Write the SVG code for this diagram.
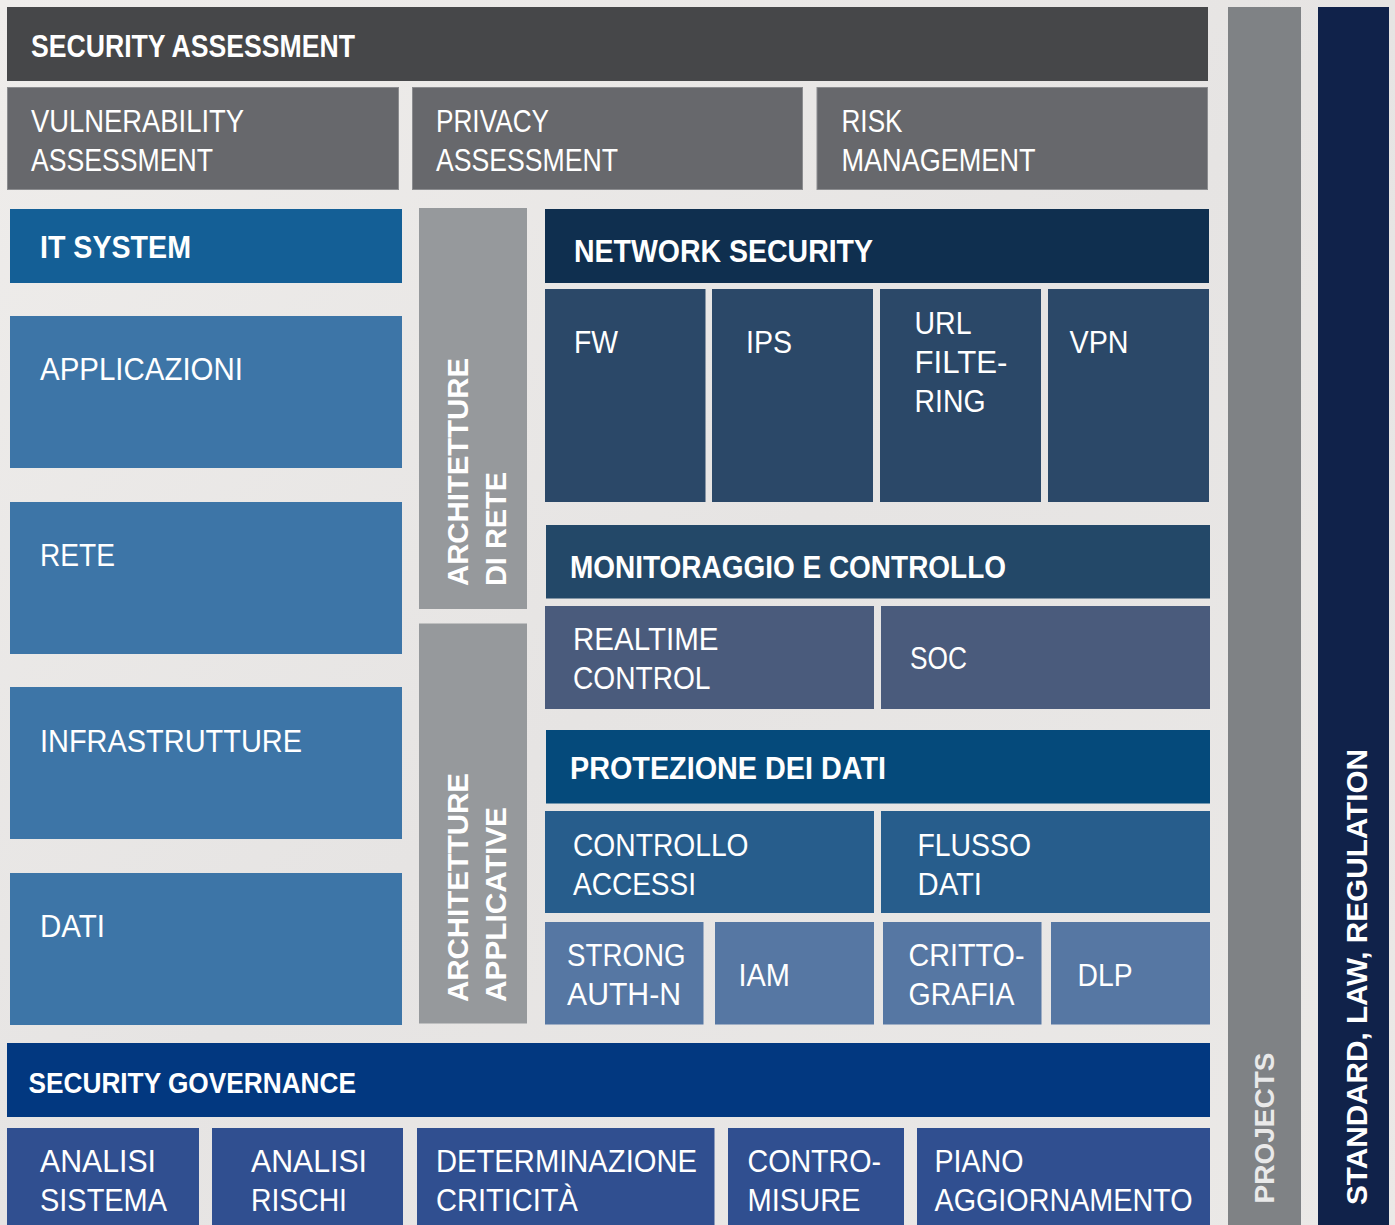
<svg xmlns="http://www.w3.org/2000/svg" width="1395" height="1225" viewBox="0 0 1395 1225">
<style>
text{font-family:"Liberation Sans",Arial,sans-serif;fill:#ffffff;}
.r{font-size:31px;}
.b{font-size:32px;font-weight:bold;}
.v{font-size:30px;font-weight:bold;}
</style>
<defs>
<linearGradient id="bg" x1="0" y1="0" x2="1" y2="1">
<stop offset="0" stop-color="#efedeb"/>
<stop offset="0.5" stop-color="#e6e4e3"/>
<stop offset="1" stop-color="#ebe9e7"/>
</linearGradient>
</defs>
<rect x="0" y="0" width="1395" height="1225" fill="url(#bg)"/>

<g id="security-assessment">
<rect x="7" y="7" width="1201" height="74" fill="#464749"/>
<text class="b" x="31" y="57" textLength="324" lengthAdjust="spacingAndGlyphs">SECURITY ASSESSMENT</text>
</g>
<g id="vulnerability-assessment">
<rect x="7.5" y="87.5" width="391" height="102" fill="#67686c" stroke="#8b8c8f" stroke-width="1"/>
<text class="r" x="31" y="132" textLength="213" lengthAdjust="spacingAndGlyphs">VULNERABILITY</text>
<text class="r" x="31" y="171" textLength="182" lengthAdjust="spacingAndGlyphs">ASSESSMENT</text>
</g>
<g id="privacy-assessment">
<rect x="412.5" y="87.5" width="390" height="102" fill="#67686c" stroke="#8b8c8f" stroke-width="1"/>
<text class="r" x="436" y="132" textLength="113" lengthAdjust="spacingAndGlyphs">PRIVACY</text>
<text class="r" x="436" y="171" textLength="182" lengthAdjust="spacingAndGlyphs">ASSESSMENT</text>
</g>
<g id="risk-management">
<rect x="817" y="87.5" width="390.5" height="102" fill="#67686c" stroke="#8b8c8f" stroke-width="1"/>
<text class="r" x="841.5" y="132" textLength="61" lengthAdjust="spacingAndGlyphs">RISK</text>
<text class="r" x="841.5" y="171" textLength="194" lengthAdjust="spacingAndGlyphs">MANAGEMENT</text>
</g>

<g id="it-system">
<rect x="10" y="209" width="392" height="74" fill="#145f96"/>
<text class="b" x="40" y="258" textLength="151" lengthAdjust="spacingAndGlyphs">IT SYSTEM</text>
</g>
<g id="applicazioni">
<rect x="10" y="316" width="392" height="152" fill="#3d75a7"/>
<text class="r" x="40" y="380" textLength="203" lengthAdjust="spacingAndGlyphs">APPLICAZIONI</text>
</g>
<g id="rete">
<rect x="10" y="502" width="392" height="152" fill="#3d75a7"/>
<text class="r" x="40" y="566" textLength="75" lengthAdjust="spacingAndGlyphs">RETE</text>
</g>
<g id="infrastrutture">
<rect x="10" y="687" width="392" height="152" fill="#3d75a7"/>
<text class="r" x="40" y="752" textLength="262" lengthAdjust="spacingAndGlyphs">INFRASTRUTTURE</text>
</g>
<g id="dati">
<rect x="10" y="873" width="392" height="152" fill="#3d75a7"/>
<text class="r" x="40" y="937" textLength="65" lengthAdjust="spacingAndGlyphs">DATI</text>
</g>

<g id="architetture-di-rete">
<rect x="419" y="208" width="108" height="401" fill="#96999c"/>
<text class="v" transform="translate(468,586) rotate(-90)" x="0" y="0" textLength="228" lengthAdjust="spacingAndGlyphs">ARCHITETTURE</text>
<text class="v" transform="translate(506,586) rotate(-90)" x="0" y="0" textLength="114" lengthAdjust="spacingAndGlyphs">DI RETE</text>
</g>
<g id="architetture-applicative">
<rect x="419" y="623.5" width="108" height="400" fill="#96999c"/>
<text class="v" transform="translate(468,1002) rotate(-90)" x="0" y="0" textLength="229" lengthAdjust="spacingAndGlyphs">ARCHITETTURE</text>
<text class="v" transform="translate(506,1002) rotate(-90)" x="0" y="0" textLength="195" lengthAdjust="spacingAndGlyphs">APPLICATIVE</text>
</g>

<g id="network-security">
<rect x="545" y="209" width="664" height="74" fill="#0f2f4f"/>
<text class="b" x="574" y="262" textLength="299" lengthAdjust="spacingAndGlyphs">NETWORK SECURITY</text>
</g>
<g id="fw">
<rect x="545" y="289" width="160.5" height="213" fill="#2b4868"/>
<text class="r" x="574" y="353" textLength="44" lengthAdjust="spacingAndGlyphs">FW</text>
</g>
<g id="ips">
<rect x="712" y="289" width="161" height="213" fill="#2b4868"/>
<text class="r" x="746" y="353" textLength="46" lengthAdjust="spacingAndGlyphs">IPS</text>
</g>
<g id="url-filtering">
<rect x="880" y="289" width="161" height="213" fill="#2b4868"/>
<text class="r" x="914.5" y="333.5" textLength="57" lengthAdjust="spacingAndGlyphs">URL</text>
<text class="r" x="914.5" y="372.5" textLength="93" lengthAdjust="spacingAndGlyphs">FILTE-</text>
<text class="r" x="914.5" y="411.5" textLength="71" lengthAdjust="spacingAndGlyphs">RING</text>
</g>
<g id="vpn">
<rect x="1048" y="289" width="161" height="213" fill="#2b4868"/>
<text class="r" x="1069.5" y="353" textLength="59" lengthAdjust="spacingAndGlyphs">VPN</text>
</g>

<g id="monitoraggio-e-controllo">
<rect x="546" y="525" width="664" height="73.5" fill="#234868"/>
<text class="b" x="570" y="577.5" textLength="436" lengthAdjust="spacingAndGlyphs">MONITORAGGIO E CONTROLLO</text>
</g>
<g id="realtime-control">
<rect x="545" y="606" width="329" height="103" fill="#4a5b7c"/>
<text class="r" x="573" y="650" textLength="145.5" lengthAdjust="spacingAndGlyphs">REALTIME</text>
<text class="r" x="573" y="689" textLength="137.5" lengthAdjust="spacingAndGlyphs">CONTROL</text>
</g>
<g id="soc">
<rect x="881" y="606" width="329" height="103" fill="#4a5b7c"/>
<text class="r" x="910" y="669" textLength="57" lengthAdjust="spacingAndGlyphs">SOC</text>
</g>

<g id="protezione-dei-dati">
<rect x="546" y="730" width="664" height="73.5" fill="#054a7b"/>
<text class="b" x="570" y="778.5" textLength="316" lengthAdjust="spacingAndGlyphs">PROTEZIONE DEI DATI</text>
</g>
<g id="controllo-accessi">
<rect x="545" y="811" width="329" height="102" fill="#275d8c"/>
<text class="r" x="573" y="855.5" textLength="175.5" lengthAdjust="spacingAndGlyphs">CONTROLLO</text>
<text class="r" x="573" y="894.5" textLength="123" lengthAdjust="spacingAndGlyphs">ACCESSI</text>
</g>
<g id="flusso-dati">
<rect x="881" y="811" width="329" height="102" fill="#275d8c"/>
<text class="r" x="917.5" y="855.5" textLength="113.5" lengthAdjust="spacingAndGlyphs">FLUSSO</text>
<text class="r" x="917.5" y="894.5" textLength="64.5" lengthAdjust="spacingAndGlyphs">DATI</text>
</g>
<g id="strong-auth-n">
<rect x="545" y="922" width="158.5" height="102.5" fill="#5677a3"/>
<text class="r" x="567" y="965.5" textLength="118.5" lengthAdjust="spacingAndGlyphs">STRONG</text>
<text class="r" x="567" y="1004.5" textLength="114" lengthAdjust="spacingAndGlyphs">AUTH-N</text>
</g>
<g id="iam">
<rect x="715" y="922" width="159" height="102.5" fill="#5677a3"/>
<text class="r" x="738.5" y="986" textLength="51.5" lengthAdjust="spacingAndGlyphs">IAM</text>
</g>
<g id="crittografia">
<rect x="883" y="922" width="158.5" height="102.5" fill="#5677a3"/>
<text class="r" x="908.5" y="965.5" textLength="116" lengthAdjust="spacingAndGlyphs">CRITTO-</text>
<text class="r" x="908.5" y="1004.5" textLength="106" lengthAdjust="spacingAndGlyphs">GRAFIA</text>
</g>
<g id="dlp">
<rect x="1051" y="922" width="159" height="102.5" fill="#5677a3"/>
<text class="r" x="1077.5" y="986" textLength="55" lengthAdjust="spacingAndGlyphs">DLP</text>
</g>

<g id="security-governance">
<rect x="7" y="1043" width="1203" height="74" fill="#023880"/>
<text class="b" x="28.5" y="1092.5" style="font-size:29px" textLength="327.5" lengthAdjust="spacingAndGlyphs">SECURITY GOVERNANCE</text>
</g>
<g id="analisi-sistema">
<rect x="7" y="1128" width="192" height="97" fill="#304f90"/>
<text class="r" x="40" y="1172" textLength="116" lengthAdjust="spacingAndGlyphs">ANALISI</text>
<text class="r" x="40" y="1211" textLength="127" lengthAdjust="spacingAndGlyphs">SISTEMA</text>
</g>
<g id="analisi-rischi">
<rect x="212" y="1128" width="191" height="97" fill="#304f90"/>
<text class="r" x="251" y="1172" textLength="116" lengthAdjust="spacingAndGlyphs">ANALISI</text>
<text class="r" x="251" y="1211" textLength="96" lengthAdjust="spacingAndGlyphs">RISCHI</text>
</g>
<g id="determinazione-criticita">
<rect x="417" y="1128" width="297.5" height="97" fill="#304f90"/>
<text class="r" x="436" y="1172" textLength="261" lengthAdjust="spacingAndGlyphs">DETERMINAZIONE</text>
<text class="r" x="436" y="1211" textLength="142" lengthAdjust="spacingAndGlyphs">CRITICITÀ</text>
</g>
<g id="contromisure">
<rect x="728" y="1128" width="176" height="97" fill="#304f90"/>
<text class="r" x="747.5" y="1172" textLength="133.5" lengthAdjust="spacingAndGlyphs">CONTRO-</text>
<text class="r" x="747.5" y="1211" textLength="113" lengthAdjust="spacingAndGlyphs">MISURE</text>
</g>
<g id="piano-aggiornamento">
<rect x="917" y="1128" width="293" height="97" fill="#304f90"/>
<text class="r" x="934.5" y="1172" textLength="89" lengthAdjust="spacingAndGlyphs">PIANO</text>
<text class="r" x="934.5" y="1211" textLength="258" lengthAdjust="spacingAndGlyphs">AGGIORNAMENTO</text>
</g>

<g id="projects">
<rect x="1228" y="7" width="73" height="1218" fill="#7f8285"/>
<text class="v" transform="translate(1274,1203.5) rotate(-90)" x="0" y="0" style="font-size:28px;fill:#e9e9e9" textLength="151" lengthAdjust="spacingAndGlyphs">PROJECTS</text>
</g>
<g id="standard-law-regulation">
<rect x="1318" y="7" width="71" height="1218" fill="#10224a"/>
<text class="v" transform="translate(1367,1205) rotate(-90)" x="0" y="0" textLength="456" lengthAdjust="spacingAndGlyphs">STANDARD, LAW, REGULATION</text>
</g>
<g id="connectors"/>
</svg>
